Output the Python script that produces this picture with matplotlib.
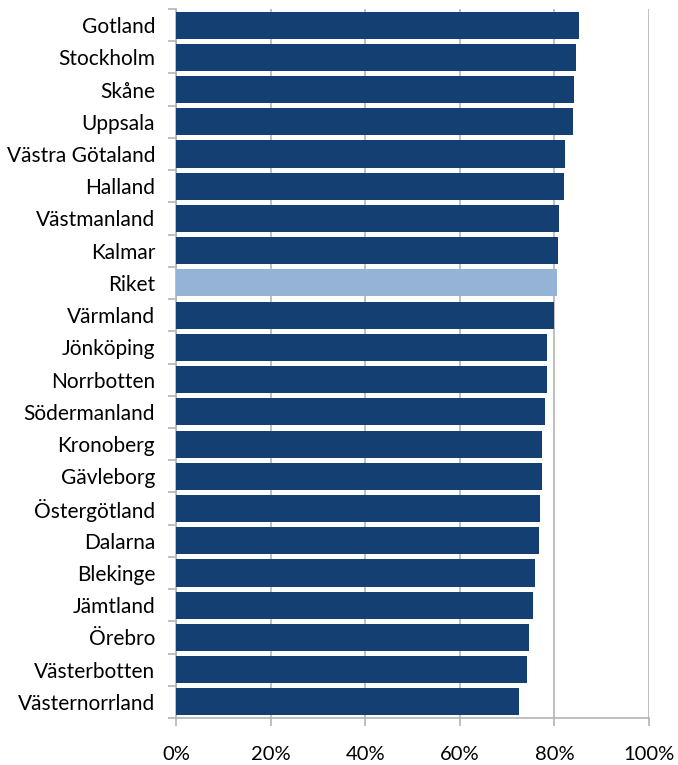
import numpy as np
import matplotlib
matplotlib.use("Agg")
import matplotlib.pyplot as plt
from matplotlib.ticker import FixedLocator, PercentFormatter

# regioner, uppifrån och ned
lan = ["Gotland", "Stockholm", "Skåne", "Uppsala", "Västra Götaland", "Halland",
       "Västmanland", "Kalmar", "Riket", "Värmland", "Jönköping", "Norrbotten",
       "Södermanland", "Kronoberg", "Gävleborg", "Östergötland", "Dalarna",
       "Blekinge", "Jämtland", "Örebro", "Västerbotten", "Västernorrland"]
andel = [85.2, 84.5, 84.1, 83.9, 82.2, 82.0, 80.9, 80.7, 80.5, 79.9, 78.4, 78.4,
         78.0, 77.3, 77.3, 76.9, 76.7, 75.9, 75.4, 74.6, 74.2, 72.5]
xticks = [0, 20, 40, 60, 80, 100]

dark = "#133F73"
light = "#95B3D7"
grid = "#B4B4B4"

plt.rcParams['font.family'] = ['Lato', 'DejaVu Sans']

fig = plt.figure(figsize=(6.78, 7.65), dpi=100)
ax = fig.add_axes([176 / 678, 1 - 718 / 765, (649 - 176) / 678, (718 - 9) / 765])

y = np.arange(len(lan))
colors = [light if n == "Riket" else dark for n in lan]
ax.barh(y, andel, height=0.84, color=colors, zorder=3)

ax.set_xlim(0, 100)
ax.set_ylim(len(lan) - 0.5, -0.5)
ax.set_xticks(xticks)
ax.xaxis.set_major_formatter(PercentFormatter(decimals=0))
ax.grid(axis="x", color=grid, linewidth=1.2, zorder=0)

ax.set_yticks(y)
ax.set_yticklabels(lan)
ax.yaxis.set_minor_locator(FixedLocator(np.arange(len(lan) + 1) - 0.5))
ax.tick_params(axis="y", which="major", length=0, pad=15, labelsize=15)
ax.tick_params(axis="y", which="minor", length=6, color=grid, width=1.2)
ax.tick_params(axis="x", length=6, color=grid, width=1.2, pad=14, labelsize=14.5)

for s in ["top", "right"]:
    ax.spines[s].set_visible(False)
for s in ["left", "bottom"]:
    ax.spines[s].set_color(grid)
    ax.spines[s].set_linewidth(1.2)

fig.savefig("out.png", dpi=100)
